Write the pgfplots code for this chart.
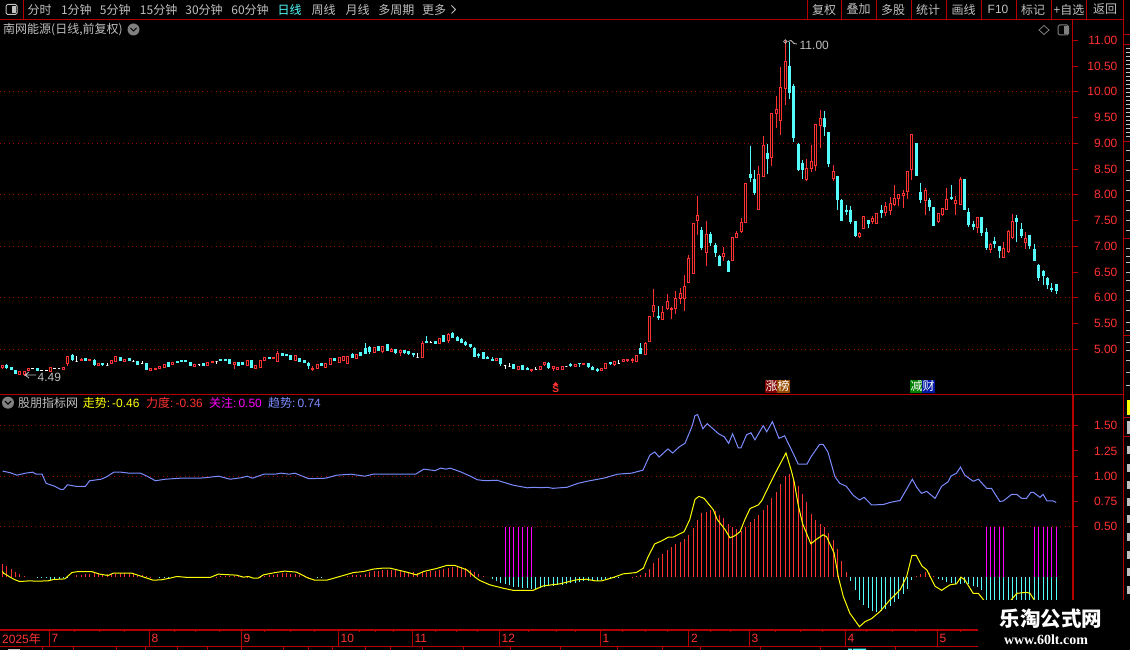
\documentclass[border=0pt]{standalone}
\usepackage{fontspec}
\setmainfont{Liberation Sans}
\newfontfamily\cjk{Noto Sans CJK SC}
\newfontfamily\wmfont{Liberation Serif}
\usepackage{pgfplots}
\usepackage{pgfplotstable}
\pgfplotsset{compat=1.18}
\definecolor{fr}{HTML}{B40000}
\definecolor{lab}{HTML}{FF3232}
\definecolor{up}{HTML}{FF3232}
\definecolor{dn}{HTML}{54FCFC}
\definecolor{gr}{HTML}{A00000}
\definecolor{txt}{HTML}{C0C0C0}
\definecolor{tr}{HTML}{FFFF00}
\definecolor{bl}{HTML}{7C8CFF}
\definecolor{mg}{HTML}{FF00FF}
\pgfplotstableread{
i o h l c
0 4.64 4.68 4.62 4.68
4 4.51 4.56 4.51 4.56
5 4.51 4.57 4.49 4.57
6 4.59 4.64 4.58 4.63
11 4.57 4.64 4.57 4.64
14 4.61 4.66 4.61 4.65
15 4.72 4.87 4.68 4.86
18 4.78 4.83 4.78 4.81
20 4.78 4.82 4.78 4.81
22 4.68 4.72 4.68 4.72
25 4.72 4.79 4.71 4.79
26 4.76 4.87 4.76 4.86
28 4.76 4.81 4.76 4.81
34 4.59 4.62 4.59 4.62
35 4.60 4.63 4.60 4.63
36 4.62 4.66 4.62 4.66
37 4.64 4.71 4.64 4.71
39 4.70 4.75 4.70 4.75
44 4.67 4.70 4.67 4.70
47 4.68 4.75 4.68 4.75
48 4.74 4.77 4.74 4.77
53 4.71 4.75 4.62 4.75
56 4.68 4.79 4.68 4.79
58 4.62 4.68 4.62 4.68
59 4.64 4.79 4.64 4.79
60 4.78 4.84 4.78 4.84
62 4.82 4.85 4.82 4.85
63 4.77 4.96 4.77 4.91
67 4.79 4.87 4.79 4.87
71 4.60 4.67 4.57 4.63
72 4.62 4.70 4.62 4.70
74 4.64 4.72 4.64 4.72
75 4.70 4.82 4.70 4.82
77 4.74 4.84 4.74 4.84
78 4.79 4.86 4.79 4.86
79 4.73 4.86 4.73 4.86
81 4.82 4.90 4.82 4.90
85 4.94 5.05 4.93 5.04
87 4.95 5.06 4.93 5.06
89 4.95 5.02 4.95 4.99
91 4.93 4.97 4.87 4.97
96 4.84 5.16 4.84 5.12
100 5.12 5.21 5.11 5.21
102 5.17 5.32 5.13 5.28
113 4.78 4.83 4.78 4.83
118 4.61 4.67 4.61 4.67
121 4.58 4.61 4.56 4.61
123 4.61 4.67 4.61 4.67
124 4.70 4.76 4.68 4.74
126 4.62 4.66 4.57 4.66
127 4.61 4.64 4.61 4.64
128 4.61 4.67 4.61 4.67
131 4.66 4.71 4.66 4.71
133 4.70 4.73 4.70 4.73
137 4.59 4.63 4.59 4.63
138 4.62 4.73 4.62 4.73
140 4.70 4.78 4.68 4.76
142 4.76 4.81 4.76 4.81
143 4.78 4.81 4.75 4.81
144 4.79 4.84 4.74 4.81
145 4.76 4.87 4.76 4.87
147 4.89 5.14 4.88 5.12
148 5.15 5.63 5.15 5.63
149 5.74 6.17 5.63 5.85
151 5.58 5.84 5.57 5.72
152 5.80 6.07 5.76 5.93
153 5.77 5.83 5.59 5.80
154 5.79 6.13 5.69 5.99
155 5.98 6.19 5.88 6.09
156 5.98 6.44 5.75 6.22
157 6.29 6.83 6.29 6.77
158 6.48 7.45 6.46 7.45
159 7.50 7.98 7.22 7.60
161 6.88 7.49 6.62 7.22
165 6.81 6.99 6.71 6.86
167 6.73 7.17 6.73 7.17
168 7.18 7.30 7.16 7.24
169 7.28 7.55 7.26 7.47
170 7.47 8.22 7.46 8.22
173 7.72 8.56 7.70 8.40
174 8.35 9.14 8.35 8.96
176 8.72 9.58 8.56 9.58
177 9.57 9.92 9.30 9.65
178 9.44 10.48 9.16 10.09
179 10.06 11.00 9.74 10.59
184 8.29 8.69 8.27 8.51
185 8.51 8.97 8.44 8.65
186 8.57 9.37 8.46 9.37
187 9.34 9.65 8.91 9.48
190 8.31 8.58 8.27 8.46
196 7.19 7.28 7.16 7.24
197 7.34 7.58 7.34 7.58
199 7.49 7.59 7.43 7.53
200 7.44 7.63 7.44 7.63
202 7.65 7.86 7.59 7.78
203 7.69 7.96 7.61 7.83
204 7.81 8.19 7.78 7.93
205 7.92 8.02 7.78 8.00
206 7.98 8.09 7.74 8.03
207 8.06 8.46 7.92 8.46
208 8.49 9.17 8.29 9.17
211 7.88 8.13 7.61 8.09
214 7.49 7.65 7.45 7.63
215 7.61 7.74 7.59 7.74
216 7.72 8.13 7.70 7.90
218 7.83 7.98 7.61 7.88
219 7.82 8.35 7.80 8.29
223 7.37 7.57 7.26 7.55
226 6.93 7.06 6.87 7.03
229 6.79 7.08 6.77 6.95
230 6.89 7.32 6.87 7.28
231 7.18 7.63 7.14 7.49
234 7.08 7.28 6.95 7.16
}\redtab
\pgfplotstableread{
i o h l c
1 4.68 4.72 4.62 4.65
2 4.65 4.65 4.60 4.60
3 4.59 4.59 4.53 4.53
8 4.62 4.62 4.59 4.59
16 4.87 4.90 4.77 4.81
19 4.82 4.83 4.77 4.79
21 4.79 4.81 4.68 4.71
23 4.73 4.73 4.68 4.71
27 4.84 4.84 4.79 4.79
29 4.82 4.83 4.78 4.78
31 4.76 4.78 4.71 4.71
33 4.72 4.74 4.61 4.61
38 4.75 4.76 4.67 4.67
40 4.77 4.77 4.74 4.74
41 4.78 4.78 4.76 4.76
42 4.78 4.78 4.76 4.76
43 4.75 4.75 4.68 4.68
46 4.73 4.73 4.69 4.69
50 4.81 4.81 4.78 4.78
51 4.81 4.82 4.79 4.79
52 4.81 4.81 4.73 4.73
54 4.74 4.74 4.69 4.69
55 4.74 4.74 4.71 4.71
57 4.79 4.80 4.64 4.64
61 4.84 4.84 4.82 4.82
64 4.92 4.93 4.87 4.87
65 4.90 4.90 4.88 4.88
66 4.87 4.87 4.81 4.81
68 4.83 4.83 4.77 4.77
69 4.78 4.78 4.75 4.75
70 4.72 4.75 4.62 4.68
73 4.72 4.73 4.68 4.68
76 4.83 4.83 4.78 4.78
80 4.90 4.92 4.85 4.85
82 4.93 4.93 4.88 4.88
83 5.01 5.12 4.91 4.91
84 5.03 5.06 4.91 4.95
86 5.05 5.06 4.97 4.97
88 5.10 5.10 4.98 4.98
90 4.99 4.99 4.91 4.94
92 4.97 4.99 4.91 4.94
93 4.95 4.97 4.89 4.92
94 4.91 4.93 4.85 4.89
97 5.15 5.26 5.13 5.13
99 5.15 5.17 5.11 5.11
101 5.26 5.28 5.15 5.16
103 5.30 5.33 5.22 5.23
104 5.23 5.26 5.16 5.17
105 5.19 5.21 5.13 5.13
106 5.13 5.17 5.06 5.10
107 5.10 5.10 5.02 5.05
108 5.01 5.04 4.86 4.86
109 4.89 4.92 4.84 4.87
110 4.93 4.93 4.83 4.83
111 4.85 4.87 4.82 4.82
112 4.81 4.85 4.79 4.79
114 4.83 4.83 4.67 4.72
117 4.70 4.70 4.62 4.63
119 4.68 4.69 4.60 4.61
120 4.63 4.65 4.61 4.61
125 4.73 4.75 4.62 4.64
130 4.71 4.74 4.66 4.68
132 4.73 4.73 4.66 4.72
134 4.73 4.73 4.64 4.66
135 4.64 4.68 4.61 4.61
136 4.61 4.64 4.56 4.59
139 4.74 4.76 4.70 4.72
146 5.01 5.12 4.91 4.92
150 5.63 5.84 5.57 5.61
160 7.30 7.37 6.93 6.97
162 7.22 7.28 7.01 7.08
163 7.01 7.06 6.79 6.87
164 6.81 6.83 6.62 6.62
166 6.71 6.73 6.50 6.52
171 8.40 8.95 8.24 8.33
172 8.29 8.49 8.00 8.05
175 8.81 8.99 8.40 8.71
180 10.50 10.97 9.86 9.98
181 10.11 10.15 9.03 9.12
182 8.97 9.01 8.46 8.50
183 8.60 8.68 8.31 8.50
188 9.48 9.63 9.14 9.33
189 9.20 9.20 8.54 8.60
191 8.36 8.37 7.70 7.90
192 7.88 7.92 7.49 7.50
193 7.70 7.80 7.61 7.67
194 7.70 7.78 7.43 7.49
195 7.49 7.49 7.18 7.20
198 7.51 7.51 7.36 7.45
201 7.70 7.80 7.55 7.65
209 9.00 9.00 8.38 8.38
210 8.04 8.23 7.84 7.90
212 7.88 7.94 7.69 7.78
213 7.76 7.76 7.39 7.41
217 7.94 8.19 7.90 7.92
220 8.29 8.29 7.72 7.72
221 7.65 7.74 7.37 7.43
222 7.43 7.49 7.32 7.39
224 7.55 7.55 7.20 7.26
225 7.26 7.36 6.93 6.97
227 7.10 7.18 6.97 7.06
228 6.99 7.01 6.77 6.91
232 7.53 7.61 7.08 7.49
233 7.32 7.45 7.16 7.20
235 7.20 7.22 6.95 7.01
236 6.93 7.04 6.71 6.73
237 6.62 6.66 6.33 6.40
238 6.52 6.54 6.25 6.44
239 6.38 6.40 6.17 6.25
240 6.19 6.29 6.11 6.17
241 6.25 6.27 6.07 6.15
}\cyantab
\pgfplotstableread{
i o h l c
7 4.63 4.63 4.61 4.62
9 4.59 4.59 4.58 4.58
10 4.59 4.60 4.57 4.58
12 4.63 4.63 4.62 4.62
13 4.63 4.64 4.61 4.63
17 4.77 4.87 4.77 4.77
24 4.69 4.73 4.69 4.69
30 4.76 4.79 4.76 4.76
32 4.72 4.77 4.72 4.72
45 4.70 4.72 4.68 4.70
49 4.77 4.78 4.72 4.77
95 4.85 4.92 4.85 4.85
98 5.13 5.17 5.13 5.13
115 4.69 4.69 4.62 4.69
116 4.66 4.73 4.66 4.66
122 4.61 4.65 4.61 4.61
129 4.67 4.68 4.66 4.67
141 4.73 4.79 4.72 4.73
}\whitetab
\pgfplotstableread{
i v
0 .135
1 .115
2 .085
3 .05
4 .033
5 .016
17 .02
18 .026
19 .033
20 .036
21 .043
22 .036
23 .033
24 .033
25 .03
26 .036
27 .04
28 .043
29 .043
30 .04
31 .026
32 .02
33 .01
34 .003
49 .006
50 .01
51 .01
52 .01
53 .013
54 .016
55 .01
56 .005
57 .003
59 .005
60 .013
61 .02
62 .026
63 .03
64 .04
65 .04
66 .035
67 .03
68 .025
69 .015
70 .005
79 .01
80 .02
81 .026
82 .026
83 .036
84 .05
85 .06
86 .066
87 .07
88 .07
89 .073
90 .07
91 .066
92 .063
93 .056
94 .05
95 .043
96 .053
97 .056
98 .06
99 .063
100 .073
101 .083
102 .09
103 .096
104 .1
105 .096
106 .09
107 .076
108 .053
109 .036
110 .016
144 .003
145 .01
146 .023
147 .046
148 .083
149 .14
150 .19
151 .23
152 .27
153 .30
154 .33
155 .353
156 .38
157 .42
158 .49
159 .57
160 .634
161 .647
162 .667
163 .657
164 .62
165 .584
166 .53
167 .495
168 .48
169 .46
170 .495
171 .55
172 .577
173 .617
174 .667
175 .716
176 .78
177 .84
178 .92
179 1.0
180 1.02
181 .98
182 .9
183 .82
184 .74
185 .627
186 .57
187 .53
188 .5
189 .44
190 .37
191 .28
192 .16
193 .056
209 .016
210 .033
211 .053
212 .04
213 .016
}\barsred
\pgfplotstableread{
i v
8 -.01
9 -.01
10 -.01
11 -.025
12 -.02
13 -.02
14 -.01
15 -.005
36 -.005
37 -.008
38 -.01
72 -.005
73 -.005
112 -.016
113 -.036
114 -.056
115 -.07
116 -.076
117 -.096
118 -.10
119 -.106
120 -.112
121 -.12
122 -.12
123 -.106
124 -.10
125 -.092
126 -.086
127 -.08
128 -.073
129 -.066
130 -.06
131 -.053
132 -.043
133 -.036
134 -.036
135 -.036
136 -.033
137 -.026
138 -.02
139 -.016
140 -.01
141 -.003
194 -.036
195 -.13
196 -.224
197 -.274
198 -.31
199 -.333
200 -.34
201 -.333
202 -.317
203 -.284
204 -.25
205 -.215
206 -.165
207 -.12
208 -.026
214 -.016
215 -.03
216 -.05
217 -.06
218 -.07
219 -.07
220 -.06
221 -.066
222 -.083
223 -.1
224 -.13
225 -.24
226 -.26
227 -.28
228 -.3
229 -.3
230 -.3
231 -.32
232 -.33
233 -.34
234 -.34
235 -.34
236 -.33
237 -.33
238 -.34
239 -.35
240 -.36
241 -.36
}\barscyan
\pgfplotstableread{
i v
115 .5
116 .5
117 .5
118 .5
119 .5
120 .5
121 .5
225 .5
226 .5
227 .5
228 .5
229 .5
236 .5
237 .5
238 .5
239 .5
240 .5
241 .5
}\barsmag
\pgfplotstableread{
i v
0 .06
0.3 .04
1.8 0
2.9 -.026
4.0 -.043
6.3 -.036
7.8 -.04
10.5 -.036
11.7 -.023
14.3 -.017
15.9 .046
17.4 .056
20.4 .056
22.3 .03
24.2 .017
25.4 .04
29.6 .04
31.9 .007
34.5 -.03
36.4 -.026
38.3 -.01
39.9 .007
42.5 -.003
47.5 -.003
49.4 .03
53.6 .02
55.1 0
56.3 .007
57.4 -.01
58.5 -.01
59.7 .023
62.4 .046
64.6 .06
67.3 .05
70 -.01
71.5 -.03
74.2 -.03
77.2 .007
80.3 .046
82.6 .056
84.8 .08
87.1 .09
88.6 .09
92.5 .05
94.7 .023
96.3 .056
99.3 .086
101.6 .116
103.5 .116
106.2 .073
108.1 0
109.2 -.033
111.5 -.076
114.6 -.11
116.8 -.13
121.4 -.13
123.7 -.086
127.5 -.066
131.3 -.026
133.6 -.02
135.5 -.036
137.1 -.036
139.7 -.003
142 .033
145 .046
146.6 .09
147.7 .205
149.2 .33
150.8 .36
152.3 .396
153.4 .396
155.9 .45
157.2 .57
158.4 .77
159.3 .80
160.5 .78
162.6 .667
163.5 .57
165.3 .47
166.4 .39
167.5 .41
168.7 .45
169.8 .57
171 .68
172.9 .716
173.7 .76
176.4 1.0
179.2 1.23
180.4 1.06
181.1 .94
182 .716
183 .53
184.9 .33
186.2 .376
187.7 .42
188.5 .40
190.2 .24
191.2 0
192.3 -.19
193.8 -.356
196 -.49
197.3 -.44
198.8 -.41
200.7 -.34
203 -.224
205.3 -.125
206.8 .007
208 .215
209 .215
210.3 .11
211.4 .073
213.3 -.09
214.8 -.13
216.7 -.076
218.2 -.066
219.2 0
220.1 -.026
222 -.16
223.2 -.16
224.3 -.22
227 -.35
229.5 -.30
230.8 -.22
232 -.16
234.2 -.15
235 -.16
235.9 -.22
238 -.36
241 -.46
}\yellowline
\pgfplotstableread{
i v
0.1 1.05
1.8 1.035
3.3 1.01
5.3 1.03
6.9 1.04
7.8 1.02
9.1 1.02
10 .93
12 .90
13.3 .87
14 .87
14.9 .915
16.8 .90
19 .90
20 .955
22.6 .97
23.9 .995
25.5 1.04
27.1 1.04
29 1.03
31.6 1.03
33.1 1.0
35 .955
37.3 .97
40.6 .98
45 .98
46.3 .985
49.5 1.0
52.1 .97
54.7 .985
56 1.0
57.2 .98
59.8 1.02
62.4 1.02
63.7 1.03
65.6 1.02
66.9 1.03
70.1 .975
73.9 .98
76.5 1.01
79.7 1.02
82.9 1.0
84.8 1.02
86.8 1.02
94.5 1.02
96.4 1.07
99 1.055
100.2 1.08
101.5 1.07
102.4 1.08
104.7 1.045
107.3 .995
108.6 .965
110.5 .955
113.1 .96
116.9 .91
120.1 .885
121.4 .89
123.4 .886
124.6 .89
125.9 .88
129.1 .89
131.7 .93
134.3 .955
137.5 .98
140.7 1.02
143.9 1.03
146.5 1.06
148.1 1.21
149.2 1.24
150.2 1.19
152.2 1.27
153.3 1.23
154.8 1.29
156.1 1.325
157.7 1.49
158.4 1.60
159 1.61
160.2 1.47
161.2 1.52
163.8 1.42
165.1 1.39
166.1 1.325
167 1.42
168.3 1.28
168.9 1.28
170.2 1.41
171.2 1.43
172.1 1.36
174 1.50
174.8 1.44
176.1 1.54
177.6 1.375
178.9 1.40
180.7 1.24
182 1.12
184 1.12
184.9 1.19
186.9 1.315
187.7 1.315
188.8 1.24
190.4 .995
191.5 .93
193 .90
194.6 .81
196 .765
197.1 .79
198.8 .715
201.5 .72
203 .74
205.3 .76
208.1 .97
209.1 .89
210.2 .83
211.4 .85
213.3 .78
214.8 .90
216.3 .945
216.9 1.0
218.2 1.03
219.1 1.09
220.1 1.01
222 .95
223.2 .97
225.1 .88
226.2 .88
228.1 .75
228.9 .755
230.8 .82
232 .82
233.1 .78
234.2 .78
235.2 .84
235.8 .84
237.3 .79
238 .82
238.9 .755
240.3 .755
241 .74
}\blueline
% a candle as a plot mark: origin at the close, sizes from the row (51.5pt per unit)
\newcommand{\candlemark}[3]{\pgfdeclareplotmark{#1}{%
  \pgfsetlinewidth{1pt}\pgfsetstrokecolor{#2}\pgfsetfillcolor{#3}\pgfsetbuttcap\pgfsetdash{}{0pt}%
  \pgfpathmoveto{\pgfpoint{0pt}{\chh pt}}\pgfpathlineto{\pgfpoint{0pt}{\cll pt}}\pgfusepathqstroke
  \pgfpathrectanglecorners{\pgfpoint{-1pt}{0pt}}{\pgfpoint{1pt}{\coo pt}}\pgfusepathqfillstroke}}
\candlemark{cred}{up}{black}
\candlemark{ccyan}{dn}{dn}
\candlemark{cwhite}{white}{white}
\newcommand{\candles}[2]{\addplot[only marks,scatter,mark=#2,
  scatter/@pre marker code/.code={\scope},scatter/@post marker code/.code={\endscope},
  visualization depends on={51.5*(\thisrow{h}-\thisrow{c})\as\chh},
  visualization depends on={51.5*(\thisrow{l}-\thisrow{c})\as\cll},
  visualization depends on={51.5*(\thisrow{o}-\thisrow{c})\as\coo}]
  table[x=i,y=c] {#1};}
\pgfplotsset{common/.style={scale only axis,width=1072.7pt,xmin=-0.526,xmax=244.77,
  axis x line=none,axis y line*=right,
  y axis line style={draw=fr,line width=1pt,-},
  tick align=outside,major tick length=5.5pt,
  ytick style={draw=fr,line width=1pt},
  yticklabel style={text=lab,font=\fontsize{12}{12}\selectfont,anchor=west,text width=38pt,align=right,inner sep=0pt,xshift=1pt,
    /pgf/number format/.cd,fixed,fixed zerofill,precision=2,assume math mode=true},
  grid style={draw=gr,line width=1pt,dash pattern=on 1pt off 3.4pt},
  clip=true}}
\begin{document}
\begin{tikzpicture}
\useasboundingbox (0,0) rectangle (1130pt,650pt);
\fill[black] (0,0) rectangle (1130pt,650pt);
\begin{axis}[common,at={(0,256pt)},anchor=south west,height=374pt,ymin=4.132,ymax=11.394,
  ytick={5,5.5,6,6.5,7,7.5,8,8.5,9,9.5,10,10.5,11},
  extra y ticks={5,6,7,8,9,10},extra y tick labels={},extra y tick style={ymajorgrids=true}]
\candles{\whitetab}{cwhite}
\candles{\redtab}{cred}
\candles{\cyantab}{ccyan}
\end{axis}
\begin{axis}[common,at={(0,20pt)},anchor=south west,height=236pt,ymin=-0.523,ymax=1.814,
  y axis line style={draw=fr,line width=2pt,-},
  ytick={.5,.75,1,1.25,1.5},
  extra y ticks={.5,1,1.5},extra y tick labels={},extra y tick style={ymajorgrids=true}]
\addplot[ycomb,draw=mg,line width=1pt] table[x=i,y=v] {\barsmag};
\addplot[ycomb,draw=dn,line width=1pt] table[x=i,y=v] {\barscyan};
\addplot[ycomb,draw=up,line width=1pt] table[x=i,y=v] {\barsred};
\addplot[draw=tr,line width=1pt] table[x=i,y=v] {\yellowline};
\addplot[draw=bl,line width=1pt] table[x=i,y=v] {\blueline};
\end{axis}
\begin{scope}[x=1pt,y=-1pt,yshift=650pt,every node/.style={inner sep=0pt}]
 % frames
 \draw[fr,line width=1pt] (0,19.5)--(1123.5,19.5) (23.5,0)--(23.5,19.5) (0,394.5)--(1123.5,394.5) (1123.5,0)--(1123.5,600)
   (807.2,0)--(807.2,19.5) (841.4,0)--(841.4,19.5) (876.4,0)--(876.4,19.5) (911.3,0)--(911.3,19.5) (946.3,0)--(946.3,19.5)
   (981.2,0)--(981.2,19.5) (1016.2,0)--(1016.2,19.5) (1051.1,0)--(1051.1,19.5) (1086.4,0)--(1086.4,19.5);
 \draw[fr,line width=1pt] (1072.7,20)--(1072.7,394);
 \foreach \yy in {35,45,142,239,336,418,437} \draw[fr,line width=1pt] (1124,\yy)--(1130,\yy);
 % date strip
 \draw[fr,line width=1.5pt] (0,630)--(985,630) (0,646.5)--(985,646.5);
 \foreach \xx in {49.3,149.3,241.3,338.3,412.3,499.3,600.3,688.7,749.3,845.3,937.3} \draw[fr,line width=1pt] (\xx,630)--(\xx,646.5);
 \foreach \xx in {74.3,99,124.3,174.3,195.7,219,264,290,314,359,375,393.7,435,456.7,477.7,528,556,575,622,645,667,710,730,775,800,822,866,892,915,960} \draw[fr,line width=1pt] (\xx,630)--(\xx,632);
 \foreach \xx in {42.7,73.3,116,145,177.7,207.3,241.7,283.3,308.3,332.7,365,390.7,422.7,463.3,510,560,617,662,700,760,820,895} \draw[fr,line width=1pt] (\xx,647)--(\xx,650);
 \foreach \xx/\mm in {49.3/7,149.3/8,241.3/9,338.3/10,412.3/11,499.3/12,600.3/1,688.7/2,749.3/3,845.3/4,937.3/5}
   \node[anchor=west,text=lab,font=\fontsize{12}{12}\selectfont] at (\xx+2.2,638.5) {\mm};
 \node[anchor=west,text=lab,font=\fontsize{12}{12}\selectfont] at (2,638.5) {2025{\cjk 年}};
 \fill[txt] (8,648.6) rectangle (20,650);
 \fill[dn] (848,648.6) rectangle (852,650) (853,648.6) rectangle (866,650);
 % toolbar
 \foreach \xx/\lb in {39.6/分时,76.4/1分钟,115.3/5分钟,158.6/15分钟,204/30分钟,250/60分钟,323.6/周线,357.5/月线,396.4/多周期,824/复权,858.5/叠加,893/多股,928/统计,963.5/画线,1033/标记,1105/返回}
   \node[text=txt,font=\cjk\fontsize{12}{12}\selectfont] at (\xx,9.5) {\lb};
 \node[text=dn,font=\cjk\fontsize{12}{12}\selectfont] at (289.7,9.5) {日线};
 \node[text=txt,font=\cjk\fontsize{12}{12}\selectfont] at (434,9.5) {更多};
 \draw[txt,line width=.8pt] (451.5,5.5)--(455.5,9.5)--(451.5,13.5);
 \node[text=txt,font=\fontsize{12}{12}\selectfont] at (998,9.5) {F10};
 \node[text=txt,font=\cjk\fontsize{12}{12}\selectfont] at (1069,9.5) {+自选};
 \draw[txt,line width=1pt,rounded corners=1.5pt] (6,4.5) rectangle (17,14.5);
 \fill[txt] (11.5,6) rectangle (15.5,13);
 % title
 \node[anchor=west,text=txt,font=\cjk\fontsize{12}{12}\selectfont] at (3,29.5) {南网能源(日线,前复权)};
 \fill[gray] (133.5,29.5) circle (6);
 \draw[black,line width=1pt] (130.5,28)--(133.5,31)--(136.5,28);
 \draw[gray,line width=.8pt] (1044,25.5)--(1049,30)--(1044,34.5)--(1039,30)--cycle;
 \draw[gray,line width=1pt,rounded corners=1.5pt] (1058,25) rectangle (1068.5,35);
 \fill[gray] (1063.5,26) rectangle (1067.5,34);
 % annotations
 \draw[txt,line width=.7pt] (785.3,41.5) circle (1.8);
 \draw[txt,line width=.8pt] (788,41.5)--(791,40.5)--(794,43.5)--(797,44);
 \node[anchor=west,text=txt,font=\fontsize{12}{12}\selectfont] at (799.5,45.7) {11.00};
 \draw[txt,line width=.8pt] (36,375)--(25,375) (29,372)--(25,375)--(29,378);
 \node[anchor=west,text=txt,font=\fontsize{12}{12}\selectfont] at (37.5,377) {4.49};
 \fill[up] (555.7,382)--(558.7,385)--(552.7,385)--cycle;
 \node[text=up,font=\bfseries\fontsize{10}{10}\selectfont] at (555.7,389.5) {S};
 \fill[red!50!black] (765,380) rectangle (777,392.7);
 \fill[orange!60!black] (777,380) rectangle (790,392.7);
 \node[text=white,font=\cjk\fontsize{12}{12}\selectfont] at (777.5,386.3) {涨榜};
 \fill[green!50!black] (910,380) rectangle (922.3,392.7);
 \fill[blue!60!black!90!cyan] (922.3,380) rectangle (935,392.7);
 \node[text=white,font=\cjk\fontsize{12}{12}\selectfont] at (922.5,386.3) {减财};
 % legend of the lower panel
 \fill[gray] (8,402.7) circle (6);
 \draw[black,line width=1pt] (5,401.2)--(8,404.2)--(11,401.2);
 \node[anchor=west,text=txt,font=\cjk\fontsize{12}{12}\selectfont] at (18,402.7) {股朋指标网};
 \node[anchor=west,text=tr,font=\fontsize{12}{12}\selectfont] at (82.7,402.7) {{\cjk 走势}:\,-0.46};
 \node[anchor=west,text=lab,font=\fontsize{12}{12}\selectfont] at (146,402.7) {{\cjk 力度}:\,-0.36};
 \node[anchor=west,text=mg,font=\fontsize{12}{12}\selectfont] at (209,402.7) {{\cjk 关注}:\,0.50};
 \node[anchor=west,text=bl,font=\fontsize{12}{12}\selectfont] at (268,402.7) {{\cjk 趋势}:\,0.74};
 % cut off side panel
 \foreach \yy in {48,52,56,60,64,68,72,76,80,84,88,92,96,100,104,108,112,116,120,124,128,132,136,150,160,170,180,190,200,210,220,230,248,256,262,272,280,290,300,310,322,330,342,350,360,372,385}
   \fill[txt] (1126,\yy) rectangle (1130,\yy+1.2);
 \fill[tr] (1126.5,400) rectangle (1130,415);
 \fill[txt] (1126.5,421) rectangle (1130,434);
 \foreach \yy in {446,464,481,498,515,533,551,568,586}
   \fill[txt] (1126.7,\yy) rectangle (1130,\yy+8);
 % watermark
 \fill[black] (978,600) rectangle (1130,650);
 \node[text=white,font=\cjk\bfseries\fontsize{20.5}{20.5}\selectfont] at (1051,619) {乐淘公式网};
 \node[text=white,font=\wmfont\bfseries\fontsize{14}{14}\selectfont] at (1046,640) {www.60lt.com};
\end{scope}
\end{tikzpicture}
\end{document}
